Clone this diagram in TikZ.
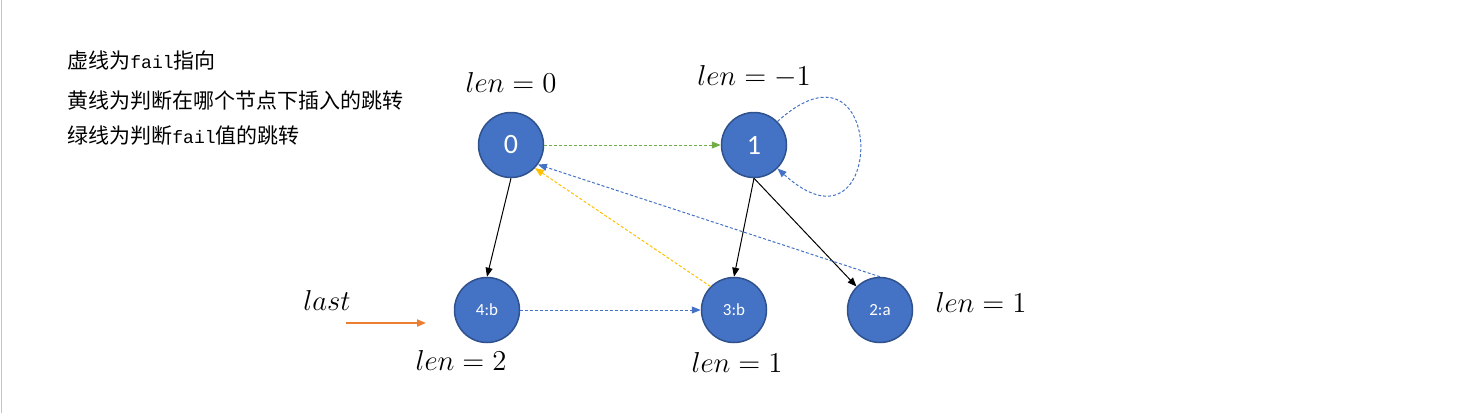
\documentclass[tikz,border=0pt]{standalone}
\usepackage{fontspec}
\newfontfamily\cjk{Noto Sans CJK SC}
\newfontfamily\failfont{Liberation Mono}
\newfontfamily\nodefont{Carlito}
\usetikzlibrary{arrows.meta}
\definecolor{nodeFill}{HTML}{4472C4}
\definecolor{nodeDraw}{HTML}{2F528F}
\definecolor{failBlue}{HTML}{4472C4}
\definecolor{insYellow}{HTML}{FFC000}
\definecolor{failGreen}{HTML}{70AD47}
\definecolor{lastOrange}{HTML}{ED7D31}
\definecolor{frame}{HTML}{C4C4C4}
\tikzset{
  state/.style={circle, draw=nodeDraw, fill=nodeFill, line width=0.75pt, minimum size=32.5pt, inner sep=0pt, text=white, font=\nodefont\fontsize{14}{16}\selectfont},
  small/.style={state, font=\nodefont\fontsize{8.5}{10}\selectfont},
  lenlabel/.style={inner sep=0pt, font=\fontsize{14}{16}\selectfont},
  note/.style={inner sep=0pt, anchor=west, font=\cjk\fontsize{10.5}{12}\selectfont},
  edge/.style={-{Triangle[length=4.5pt,width=3.5pt]}, line width=0.5pt},
  failedge/.style={edge, dash pattern=on 1.5pt off 1pt},
}

\begin{document}
\begin{tikzpicture}[x=0.5pt,y=-0.5pt]
  \useasboundingbox (0,0) rectangle (1468,413);
  \draw[frame, line width=0.5pt] (1,0) -- (1,413);

  \node[note] (note1) at (67,60) {虚线为{\failfont\fontsize{9}{12}\selectfont fail}指向};
  \node[note] (note2) at (67,101) {黄线为判断在哪个节点下插入的跳转};
  \node[note] (note3) at (67,136) {绿线为判断{\failfont\fontsize{9}{12}\selectfont fail}值的跳转};

  \node[state] (n0) at (511,145) {0};
  \node[state] (n1) at (754,145) {1};
  \node[small] (n4) at (487,310) {4:b};
  \node[small] (n3) at (734,310) {3:b};
  \node[small] (n2) at (880,310) {2:a};

  \node[lenlabel] (len0) at (511,82) {$len = 0$};
  \node[lenlabel] (len1) at (754,77) {$len = -1$};
  \node[lenlabel] (len4) at (461,360) {$len = 2$};
  \node[lenlabel] (len3) at (737,362) {$len = 1$};
  \node[lenlabel] (len2) at (981,302) {$len = 1$};
  \node[lenlabel] (lastlbl) at (327,300) {$last$};
  \coordinate (lastS) at (346,323);
  \coordinate (lastE) at (426,323);

  \draw[edge] (n0.south) -- (n4.north);
  \draw[edge] (n1.south) -- (n3.north);
  \draw[edge] (n1.south) -- (n2.north west);
  \draw[failedge, color=failGreen] (n0.east) -- (n1.west);
  \draw[failedge, color=failBlue] (n4.east) -- (n3.west);
  \draw[failedge, color=insYellow] (n3.north west) -- (n0.-44);
  \draw[failedge, color=failBlue] (n2.north) -- (n0.-36);
  \draw[failedge, color=failBlue] (n1.45) .. controls +(110,-100) and +(110,100) .. (n1.-45);
  \draw[edge, color=lastOrange, line width=1pt] (lastS) -- (lastE);
\end{tikzpicture}
\end{document}
